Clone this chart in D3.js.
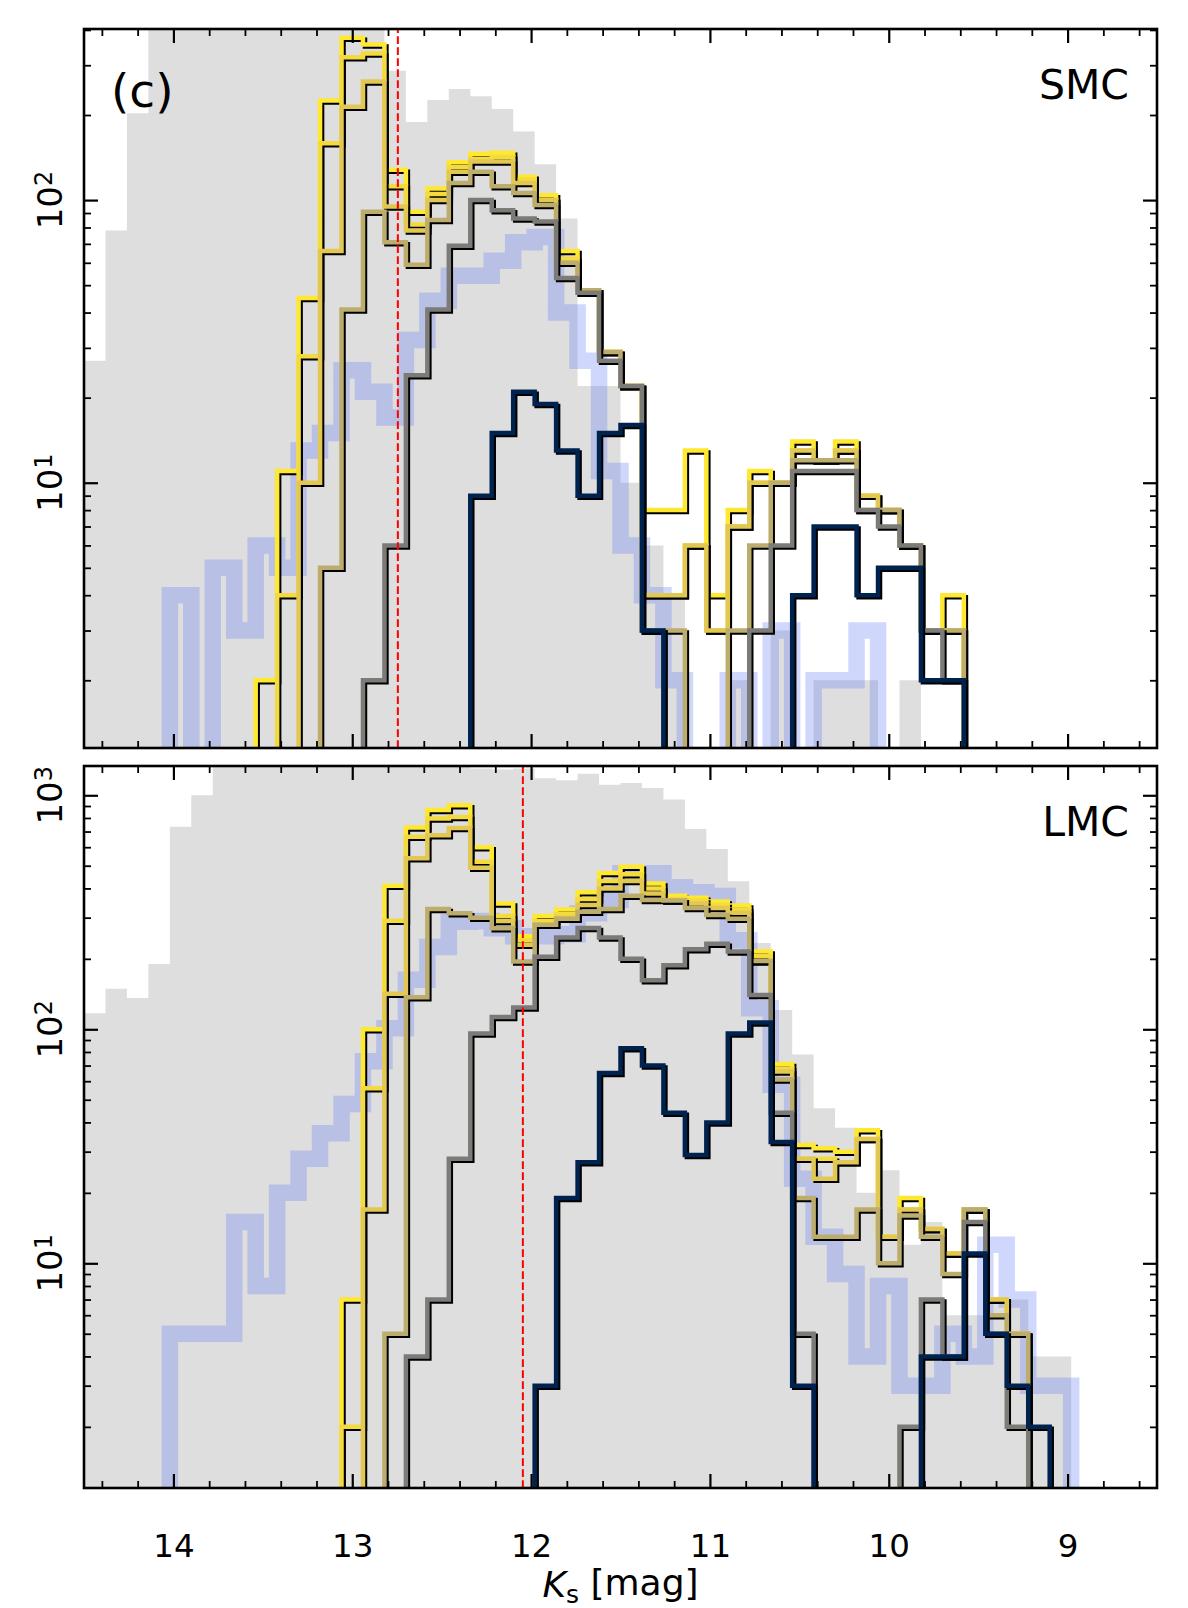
<!DOCTYPE html>
<html><head><meta charset="utf-8">
<script src="https://cdn.jsdelivr.net/npm/d3@7"></script>
<style>body{margin:0;background:#fff}</style>
</head><body>
<script>
// ---------------- data ----------------
const binEdges = [14.5,14.38,14.26,14.14,14.02,13.9,13.78,13.66,13.54,13.42,13.3,13.18,13.06,12.94,12.82,12.7,12.58,12.46,12.34,12.22,12.1,11.98,11.86,11.74,11.62,11.5,11.38,11.26,11.14,11.02,10.9,10.78,10.66,10.54,10.42,10.3,10.18,10.06,9.94,9.82,9.7,9.58,9.46,9.34,9.22,9.1,8.98,8.86,8.74,8.62,8.5];
const xMajorTicks = [14,13,12,11,10,9];
const xMinorTicks = [14.4,14.2,13.8,13.6,13.4,13.2,12.8,12.6,12.4,12.2,11.8,11.6,11.4,11.2,10.8,10.6,10.4,10.2,9.8,9.6,9.4,9.2,8.8,8.6];
const panelNames = ["SMC","LMC"];
const limitMag = [12.745, 12.046];

// SMC
const smcFill = [27,78,203,600,900,1200,1500,1700,1800,1700,1500,1200,900,600,287,189,226,247,233,210,175,134,86,22,22,10,6,4,0,0,2,0,3,0,2,2,2,0,2,0,0,0,0,0,0,0,0,0,0,0];
const smcBlue = [0,0,0,0,4,0,5,3,6,5,13,15,25,21,17,32,44,54,54,61,71,74,40,27,11,6,4,2,0,0,2,0,3,0,2,2,3,0,0,0,0,0,0,0,0,0,0,0,0,0];
const smcA = [0,0,0,0,0,0,0,0,2,11,45,225,375,355,128,91,110,136,146,147,121,104,66,48,29,22,8,8,13,4,8,11,10,14,12,14,9,8,6,3,4,0,0,0,0,0,0,0,0,0];
const smcB = [0,0,0,0,0,0,0,0,0,4,28,159,320,330,112,82,105,131,140,142,118,100,62,48,29,22,4,4,6,3,7,10,10,13,12,13,9,8,6,3,3,0,0,0,0,0,0,0,0,0];
const smcC = [0,0,0,0,0,0,0,0,0,0,10,66,214,263,95,78,100,126,137,137,115,100,60,48,29,22,4,4,6,3,7,10,10,13,12,13,9,8,6,3,3,0,0,0,0,0,0,0,0,0];
const smcD = [0,0,0,0,0,0,0,0,0,0,0,5,41,91,71,59,85,115,126,112,106,96,60,48,29,22,3,3,0,0,3,6,10,12,12,12,8,8,6,3,3,0,0,0,0,0,0,0,0,0];
const smcE = [0,0,0,0,0,0,0,0,0,0,0,0,0,2,6,24,41,69,100,92,86,84,53,47,27,22,3,0,0,0,0,3,6,11,11,11,8,7,6,3,2,0,0,0,0,0,0,0,0,0];
const smcF = [0,0,0,0,0,0,0,0,0,0,0,0,0,0,0,0,0,0,9,15,21,19,13,9,15,16,3,0,0,0,0,0,0,4,7,7,4,5,5,2,2,0,0,0,0,0,0,0,0,0];

// LMC
const lmcFill = [117,149,136,190,733,1001,1500,1700,1900,2100,2200,2300,2200,2100,2000,1800,1600,1400,1300,1290,1300,1183,1160,1235,1108,1128,1075,960,717,590,429,234,121,78,46,38,20,25,12,15,6,6,7,7,4,4,0,0,0,0];
const lmcBlue = [0,0,0,0,5,5,5,15,8,20,28,36,48,73,101,163,225,288,290,270,250,250,255,313,357,464,464,405,385,371,240,123,58,23,13,9,4,8,3,3,5,4,12,7,3,3,0,0,0,0];
const lmcA = [0,0,0,0,0,0,0,0,0,0,0,0,7,100,411,729,865,906,600,345,250,305,325,385,465,495,420,372,365,352,338,215,71,32,31,30,37,13,19,14,11,17,7,5,0,0,0,0,0,0];
const lmcB = [0,0,0,0,0,0,0,0,0,0,0,0,2,56,291,665,796,807,520,305,240,290,310,360,430,460,400,360,355,340,325,205,68,28,28,27,34,13,17,14,11,17,7,5,0,0,0,0,0,0];
const lmcC = [0,0,0,0,0,0,0,0,0,0,0,0,0,17,142,538,675,725,490,290,230,280,300,340,400,430,380,355,345,330,315,195,66,28,23,27,34,13,17,14,11,17,7,5,0,0,0,0,0,0];
const lmcD = [0,0,0,0,0,0,0,0,0,0,0,0,0,0,5,137,327,313,300,270,195,280,297,318,327,372,357,355,330,308,297,196,61,19,13,13,17,10,16,13,9,17,6,5,0,0,0,0,0,0];
const lmcE = [0,0,0,0,0,0,0,0,0,0,0,0,0,0,0,4,7,28,96,113,124,204,247,271,247,200,162,188,220,232,215,140,44,5,0,0,0,0,2,7,4,15,5,2,0,0,0,0,0,0];
const lmcF = [0,0,0,0,0,0,0,0,0,0,0,0,0,0,0,0,0,0,0,0,0,3,19,27,65,83,70,44,29,40,96,107,33,3,0,0,0,0,0,4,4,11,5,3,2,0,0,0,0,0];

const lineColors = ["#fee830","#f3da3e","#e2c853","#bcad6c","#7c7b78","#00224e"];

// ---------------- drawing ----------------
const W = 1188, H = 1608;
const X0 = 84, X1 = 1157;
const svg = d3.select("body").append("svg").attr("width", W).attr("height", H)
  .style("font-family", "'DejaVu Sans', sans-serif");
svg.append("rect").attr("width", W).attr("height", H).attr("fill", "#fff");

const x = d3.scaleLinear().domain([14.5, 8.5]).range([X0, X1]);

const panels = [
  {top: 29, bottom: 748, ymin: 1.152, ymax: 403, fill: smcFill, blue: smcBlue,
   lines: [smcA, smcB, smcC, smcD, smcE, smcF], yMajor: [10, 100],
   yMinor: [2,3,4,5,6,7,8,9,20,30,40,50,60,70,80,90,200,300,400], labels: false},
  {top: 766, bottom: 1488, ymin: 1.096, ymax: 1334, fill: lmcFill, blue: lmcBlue,
   lines: [lmcA, lmcB, lmcC, lmcD, lmcE, lmcF], yMajor: [10, 100, 1000],
   yMinor: [2,3,4,5,6,7,8,9,20,30,40,50,60,70,80,90,200,300,400,500,600,700,800,900], labels: true}
];

panels.forEach((p, pi) => {
  const y = d3.scaleLog().domain([p.ymin, p.ymax]).range([p.bottom, p.top]);
  const yb = p.bottom + 40;
  const yv = v => v > 0 ? y(v) : yb;
  const pts = vals => {
    const a = vals.map((v, i) => [binEdges[i], v]);
    a.push([binEdges[binEdges.length - 1], vals[vals.length - 1]]);
    return a;
  };
  const clipId = "clip" + pi;
  svg.append("clipPath").attr("id", clipId).append("rect")
    .attr("x", X0).attr("y", p.top).attr("width", X1 - X0).attr("height", p.bottom - p.top);
  const g = svg.append("g").attr("clip-path", `url(#${clipId})`);

  // filled background histogram
  const area = d3.area().curve(d3.curveStepAfter)
    .x(d => x(d[0])).y0(yb).y1(d => yv(d[1]));
  g.append("path").attr("d", area(pts(p.fill))).attr("fill", "#dedede");

  // step line generator
  const step = vals => {
    const a = [[binEdges[0], 0]].concat(pts(vals)).concat([[binEdges[binEdges.length - 1], 0]]);
    return d3.line().curve(d3.curveStepAfter).x(d => x(d[0])).y(d => yv(d[1]))(a);
  };

  // blue thick band
  g.append("path").attr("d", step(p.blue)).attr("fill", "none")
    .attr("stroke", "rgb(100,122,245)").attr("stroke-opacity", 0.3)
    .attr("stroke-width", 16.5).attr("stroke-linejoin", "miter");

  // coloured step lines with black shadow
  p.lines.forEach((vals, li) => {
    const d = step(vals);
    g.append("path").attr("d", d).attr("fill", "none").attr("stroke", "#000")
      .attr("stroke-width", 4.5).attr("transform", "translate(2,2)");
    g.append("path").attr("d", d).attr("fill", "none").attr("stroke", lineColors[li])
      .attr("stroke-width", 4.5);
  });

  // red dashed limit line
  g.append("line").attr("x1", x(limitMag[pi])).attr("x2", x(limitMag[pi]))
    .attr("y1", p.bottom).attr("y2", p.top)
    .attr("stroke", "#ff0000").attr("stroke-width", 2).attr("stroke-dasharray", "7.7,3.3");

  // axes ticks
  const styleAx = (sel, w) => {
    sel.select(".domain").remove();
    sel.selectAll(".tick line").attr("stroke", "#000").attr("stroke-width", w);
  };
  const xAxisB = (vals, len, w, lab) => {
    const ax = d3.axisBottom(x).tickValues(vals).tickSizeInner(-len).tickSizeOuter(0).tickPadding(46);
    ax.tickFormat(lab ? d3.format("d") : "");
    const s = svg.append("g").attr("transform", `translate(0,${p.bottom})`).call(ax);
    styleAx(s, w);
    s.selectAll("text").attr("font-size", 32.5).attr("fill", "#000")
      .attr("font-family", "'DejaVu Sans', sans-serif");
  };
  const xAxisT = (vals, len, w) => {
    const s = svg.append("g").attr("transform", `translate(0,${p.top})`)
      .call(d3.axisTop(x).tickValues(vals).tickSizeInner(-len).tickSizeOuter(0).tickFormat(""));
    styleAx(s, w);
  };
  xAxisB(xMinorTicks, 7, 1.8, false);
  xAxisB(xMajorTicks, 14, 2.2, p.labels);
  xAxisT(xMinorTicks, 7, 1.8);
  xAxisT(xMajorTicks, 14, 2.2);

  const yAxisL = (vals, len, w) => {
    const s = svg.append("g").attr("transform", `translate(${X0},0)`)
      .call(d3.axisLeft(y).tickValues(vals).tickSizeInner(-len).tickSizeOuter(0).tickFormat(""));
    styleAx(s, w);
  };
  const yAxisR = (vals, len, w) => {
    const s = svg.append("g").attr("transform", `translate(${X1},0)`)
      .call(d3.axisRight(y).tickValues(vals).tickSizeInner(-len).tickSizeOuter(0).tickFormat(""));
    styleAx(s, w);
  };
  yAxisL(p.yMinor, 7, 1.8); yAxisL(p.yMajor, 14, 2.2);
  yAxisR(p.yMinor, 7, 1.8); yAxisR(p.yMajor, 14, 2.2);

  // y tick labels (rotated, 10^n)
  p.yMajor.forEach(v => {
    const t = svg.append("text")
      .attr("transform", `translate(62,${y(v)}) rotate(-90)`)
      .attr("text-anchor", "middle").attr("font-size", 34).attr("fill", "#000");
    t.append("tspan").text("10");
    t.append("tspan").attr("dy", "-0.42em").attr("font-size", 24).text(String(Math.round(Math.log10(v))));
  });

  // frame
  svg.append("rect").attr("x", X0).attr("y", p.top).attr("width", X1 - X0).attr("height", p.bottom - p.top)
    .attr("fill", "none").attr("stroke", "#000").attr("stroke-width", 2.6);

  // panel name
  svg.append("text").attr("x", 1129).attr("y", p.top + 70).attr("text-anchor", "end")
    .attr("font-size", 41).attr("fill", "#000").text(panelNames[pi]);
  if (pi === 0) {
    svg.append("text").attr("x", 111).attr("y", p.top + 78).attr("font-size", 47)
      .attr("fill", "#000").text("(c)");
  }
});

// x label
const xl = svg.append("text").attr("x", (X0 + X1) / 2).attr("y", 1597).attr("text-anchor", "middle")
  .attr("font-size", 36).attr("fill", "#000");
xl.append("tspan").attr("font-style", "italic").text("K");
xl.append("tspan").attr("font-size", 25).attr("dy", "0.22em").text("s");
xl.append("tspan").attr("dy", "-0.22em").text("\u00a0[mag]");
</script>
</body></html>
